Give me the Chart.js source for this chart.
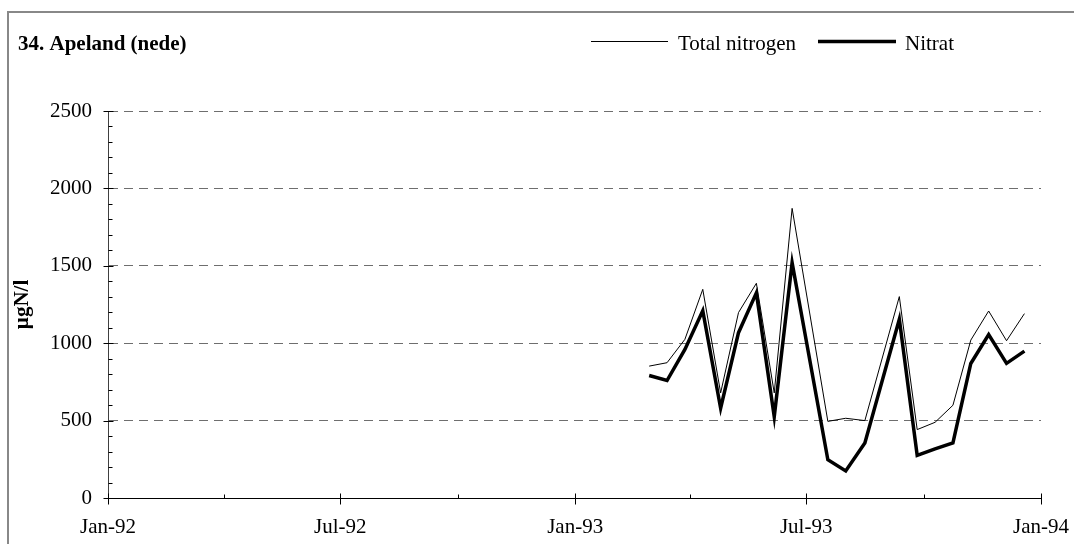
<!DOCTYPE html>
<html>
<head>
<meta charset="utf-8">
<script src="https://cdn.jsdelivr.net/npm/chart.js@4/dist/chart.umd.min.js"></script>
<style>
html,body{margin:0;padding:0;background:#fff;}
#wrap{position:relative;width:1074px;height:544px;}
</style>
</head>
<body>
<div id="wrap"><canvas id="c" width="1074" height="544"></canvas></div>
<script>
const chartTitle = '34. Apeland (nede)';
const yAxisTitle = 'µgN/l';
const seriesLabels = ['Total nitrogen', 'Nitrat'];

const sampleDates = [
  '1993-02-28','1993-03-14','1993-03-28','1993-04-11','1993-04-25',
  '1993-05-09','1993-05-23','1993-06-06','1993-06-20','1993-07-18',
  '1993-08-01','1993-08-16','1993-09-12','1993-09-26','1993-10-10',
  '1993-10-24','1993-11-07','1993-11-21','1993-12-05','1993-12-19'
];
const totalNitrogen = [852, 874, 1025, 1348, 679, 1198, 1387, 679, 1871, 495,
                       515, 500, 1301, 442, 489, 599, 1020, 1208, 1016, 1191];
const nitrat = [791, 759, 960, 1210, 580, 1068, 1325, 525, 1520, 247,
                175, 356, 1155, 275, 317, 356, 869, 1055, 870, 949];

const xTickDates = ['1992-01-01','1992-07-01','1993-01-01','1993-07-01','1994-01-01'];
const xTickLabels = ['Jan-92','Jul-92','Jan-93','Jul-93','Jan-94'];
const xMinorTickDates = ['1992-04-01','1992-10-01','1993-04-01','1993-10-01'];
const yTicks = [0, 500, 1000, 1500, 2000, 2500];
const yTickLabels = ['0', '500', '1000', '1500', '2000', '2500'];
const yMinorStep = 100;

const FONT = '"Liberation Serif", "Times New Roman", serif';
const ORIGIN = Date.UTC(1992, 0, 1);
function dayOf(s) {
  const [y, m, d] = s.split('-').map(Number);
  return (Date.UTC(y, m - 1, d) - ORIGIN) / 86400000;
}

const decor = {
  id: 'decor',
  beforeDraw(chart) {
    const ctx = chart.ctx;
    ctx.save();
    ctx.fillStyle = '#fff';
    ctx.fillRect(0, 0, chart.width, chart.height);
    ctx.restore();
  },
  afterDraw(chart) {
    const ctx = chart.ctx;
    const xs = chart.scales.x, ys = chart.scales.y;
    const area = chart.chartArea;
    ctx.save();
    // frame
    ctx.strokeStyle = '#888';
    ctx.lineWidth = 2;
    ctx.strokeRect(8, 12, chart.width + 20, chart.height + 20);
    // title
    ctx.fillStyle = '#000';
    ctx.font = 'bold 21px ' + FONT;
    ctx.textBaseline = 'middle';
    ctx.textAlign = 'left';
    ctx.fillText(chartTitle, 18, 45);
    // legend
    ctx.font = '21px ' + FONT;
    const ds = chart.data.datasets;
    const legendItems = [
      {x0: 591, x1: 668, tx: 678},
      {x0: 818, x1: 896, tx: 905}
    ];
    legendItems.forEach((it, i) => {
      ctx.strokeStyle = ds[i].borderColor;
      ctx.lineWidth = ds[i].borderWidth;
      ctx.lineCap = 'butt';
      ctx.beginPath();
      ctx.moveTo(it.x0, 41.5);
      ctx.lineTo(it.x1, 41.5);
      ctx.stroke();
      ctx.fillStyle = '#000';
      ctx.fillText(ds[i].label, it.tx, 44);
    });
    // tick marks
    ctx.strokeStyle = '#000';
    ctx.lineWidth = 1;
    const L = Math.round(area.left) + 0.5;
    const B = Math.round(area.bottom) + 0.5;
    ctx.beginPath();
    yTicks.forEach(v => {
      const py = Math.round(ys.getPixelForValue(v)) + 0.5;
      ctx.moveTo(L - 5, py); ctx.lineTo(L + 5, py);
    });
    for (let v = yMinorStep; v < yTicks[yTicks.length - 1]; v += yMinorStep) {
      if (v % 500 === 0) continue;
      const py = Math.round(ys.getPixelForValue(v)) + 0.5;
      ctx.moveTo(L, py); ctx.lineTo(L + 4, py);
    }
    xTickDates.forEach(d => {
      const px = Math.round(xs.getPixelForValue(dayOf(d))) + 0.5;
      ctx.moveTo(px, B - 5); ctx.lineTo(px, B + 6);
    });
    xMinorTickDates.forEach(d => {
      const px = Math.round(xs.getPixelForValue(dayOf(d))) + 0.5;
      ctx.moveTo(px, B - 4); ctx.lineTo(px, B);
    });
    ctx.stroke();
    ctx.restore();
  }
};

const xDays = sampleDates.map(dayOf);

new Chart(document.getElementById('c'), {
  type: 'line',
  data: {
    datasets: [
      {
        label: seriesLabels[0],
        data: xDays.map((x, i) => ({x, y: totalNitrogen[i]})),
        borderColor: '#000', borderWidth: 1, pointRadius: 0, tension: 0, fill: false,
        borderJoinStyle: 'miter'
      },
      {
        label: seriesLabels[1],
        data: xDays.map((x, i) => ({x, y: nitrat[i]})),
        borderColor: '#000', borderWidth: 3.5, pointRadius: 0, tension: 0, fill: false,
        borderJoinStyle: 'miter'
      }
    ]
  },
  options: {
    responsive: false,
    animation: false,
    devicePixelRatio: 1,
    layout: {padding: {left: 8, right: 33, top: 111, bottom: 0}},
    plugins: {legend: {display: false}, title: {display: false}, tooltip: {enabled: false}},
    scales: {
      x: {
        type: 'linear',
        min: dayOf(xTickDates[0]),
        max: dayOf(xTickDates[xTickDates.length - 1]),
        afterBuildTicks: s => { s.ticks = xTickDates.map(d => ({value: dayOf(d)})); },
        afterFit: s => { s.height = 46; s.paddingLeft = 0; s.paddingRight = 0; },
        grid: {display: false, drawTicks: false},
        border: {display: true, color: '#000', width: 1},
        ticks: {
          autoSkip: false, maxRotation: 0, minRotation: 0, padding: 17, color: '#000',
          font: {family: FONT, size: 21},
          callback: (v, i) => xTickLabels[i]
        }
      },
      y: {
        type: 'linear',
        min: 0, max: 2500,
        afterBuildTicks: s => { s.ticks = yTicks.map(v => ({value: v})); },
        afterFit: s => { s.width = 100; s.paddingTop = 0; s.paddingBottom = 0; },
        grid: {
          drawTicks: false, lineWidth: 1,
          color: ctx => (ctx.tick && ctx.tick.value === 0) ? 'rgba(0,0,0,0)' : '#6e6e6e'
        },
        border: {display: true, color: '#404040', width: 1, dash: [9, 6]},
        ticks: {
          padding: 16, color: '#000', font: {family: FONT, size: 21},
          callback: (v, i) => yTickLabels[i]
        },
        title: {
          display: true, text: yAxisTitle, color: '#000',
          font: {family: FONT, size: 21, weight: 'bold'},
          padding: {top: 2, bottom: 0}
        }
      }
    }
  },
  plugins: [decor]
});
</script>
</body>
</html>
